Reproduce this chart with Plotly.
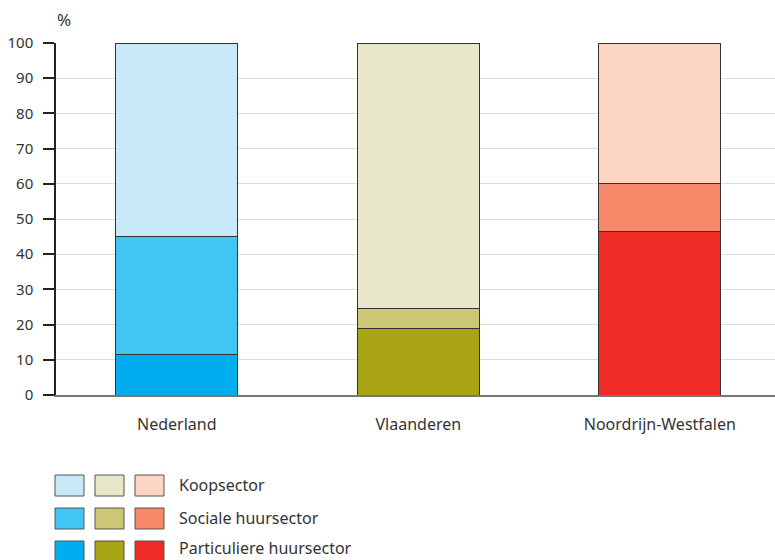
import plotly.graph_objects as go

# Housing tenure shares (%) per region
regions = ["Nederland", "Vlaanderen", "Noordrijn-Westfalen"]
particuliere = [11.4, 18.8, 46.4]
sociale = [33.6, 5.8, 13.6]
koop = [55.0, 75.4, 40.0]

sector_names = ["Particuliere huursector", "Sociale huursector", "Koopsector"]
sector_values = [particuliere, sociale, koop]

# Colour per sector (rows) and region (columns)
colors = {
    "Particuliere huursector": ["#00AEEF", "#A9A414", "#EE2B24"],
    "Sociale huursector": ["#40C6F3", "#CBC774", "#F78A6B"],
    "Koopsector": ["#C7E9F8", "#E8E7C9", "#FDD5C5"],
}

y_ticks = list(range(0, 101, 10))
FONT = "Noto Sans"

fig = go.Figure()
for name, vals in zip(sector_names, sector_values):
    fig.add_trace(go.Bar(
        x=list(range(len(regions))),
        y=vals,
        name=name,
        width=0.505,
        marker=dict(color=colors[name], line=dict(color="#333333", width=1)),
        showlegend=False,
        hoverinfo="y+name",
    ))

fig.update_layout(
    width=775,
    height=560,
    margin=dict(l=56, r=0, t=43, b=165),
    barmode="stack",
    plot_bgcolor="white",
    paper_bgcolor="white",
    font=dict(family=FONT, size=15, color="#333333"),
    xaxis=dict(
        range=[-0.5, 2.477],
        tickvals=list(range(len(regions))),
        ticktext=regions,
        showgrid=False,
        showline=True,
        linecolor="#777777",
        linewidth=1.5,
        ticks="",
        tickfont=dict(size=16, color="#333333"),
        ticklabelstandoff=14,
        zeroline=False,
    ),
    yaxis=dict(
        range=[0, 100],
        tickvals=y_ticks,
        showgrid=True,
        gridcolor="#DDDDDD",
        gridwidth=1,
        showline=True,
        linecolor="#222222",
        linewidth=1.5,
        ticks="outside",
        ticklen=11,
        tickcolor="#222222",
        tickwidth=1.5,
        tickfont=dict(size=15, color="#333333"),
        ticklabelstandoff=7,
        zeroline=False,
    ),
)

# Helpers converting pixel positions into paper fractions
plot_w = 775 - 56
plot_h = 395 - 43


def px_x(px):
    return (px - 56) / plot_w


def px_y(py):
    return (395 - py) / plot_h


# "%" unit label above the y axis
fig.add_annotation(
    xref="paper", yref="paper", x=px_x(64), y=px_y(20),
    text="%", showarrow=False, xanchor="center", yanchor="middle",
    font=dict(size=17, color="#333333"),
)

# Custom legend: one swatch per region for each sector, then the sector name
legend_order = ["Koopsector", "Sociale huursector", "Particuliere huursector"]
swatch_left = [55, 95, 135]
for row, name in enumerate(legend_order):
    top = 475 + row * 33
    for col, x0 in enumerate(swatch_left):
        fig.add_shape(
            type="rect", xref="paper", yref="paper",
            x0=px_x(x0), x1=px_x(x0 + 29), y0=px_y(top + 21), y1=px_y(top),
            fillcolor=colors[name][col],
            line=dict(color="#555555", width=1),
        )
    fig.add_annotation(
        xref="paper", yref="paper", x=px_x(178), y=px_y(min(top + 10, 548)),
        text=name, showarrow=False, xanchor="left", yanchor="middle",
        borderpad=0,
        font=dict(size=16, color="#333333"),
    )

fig.write_html("out.html")
